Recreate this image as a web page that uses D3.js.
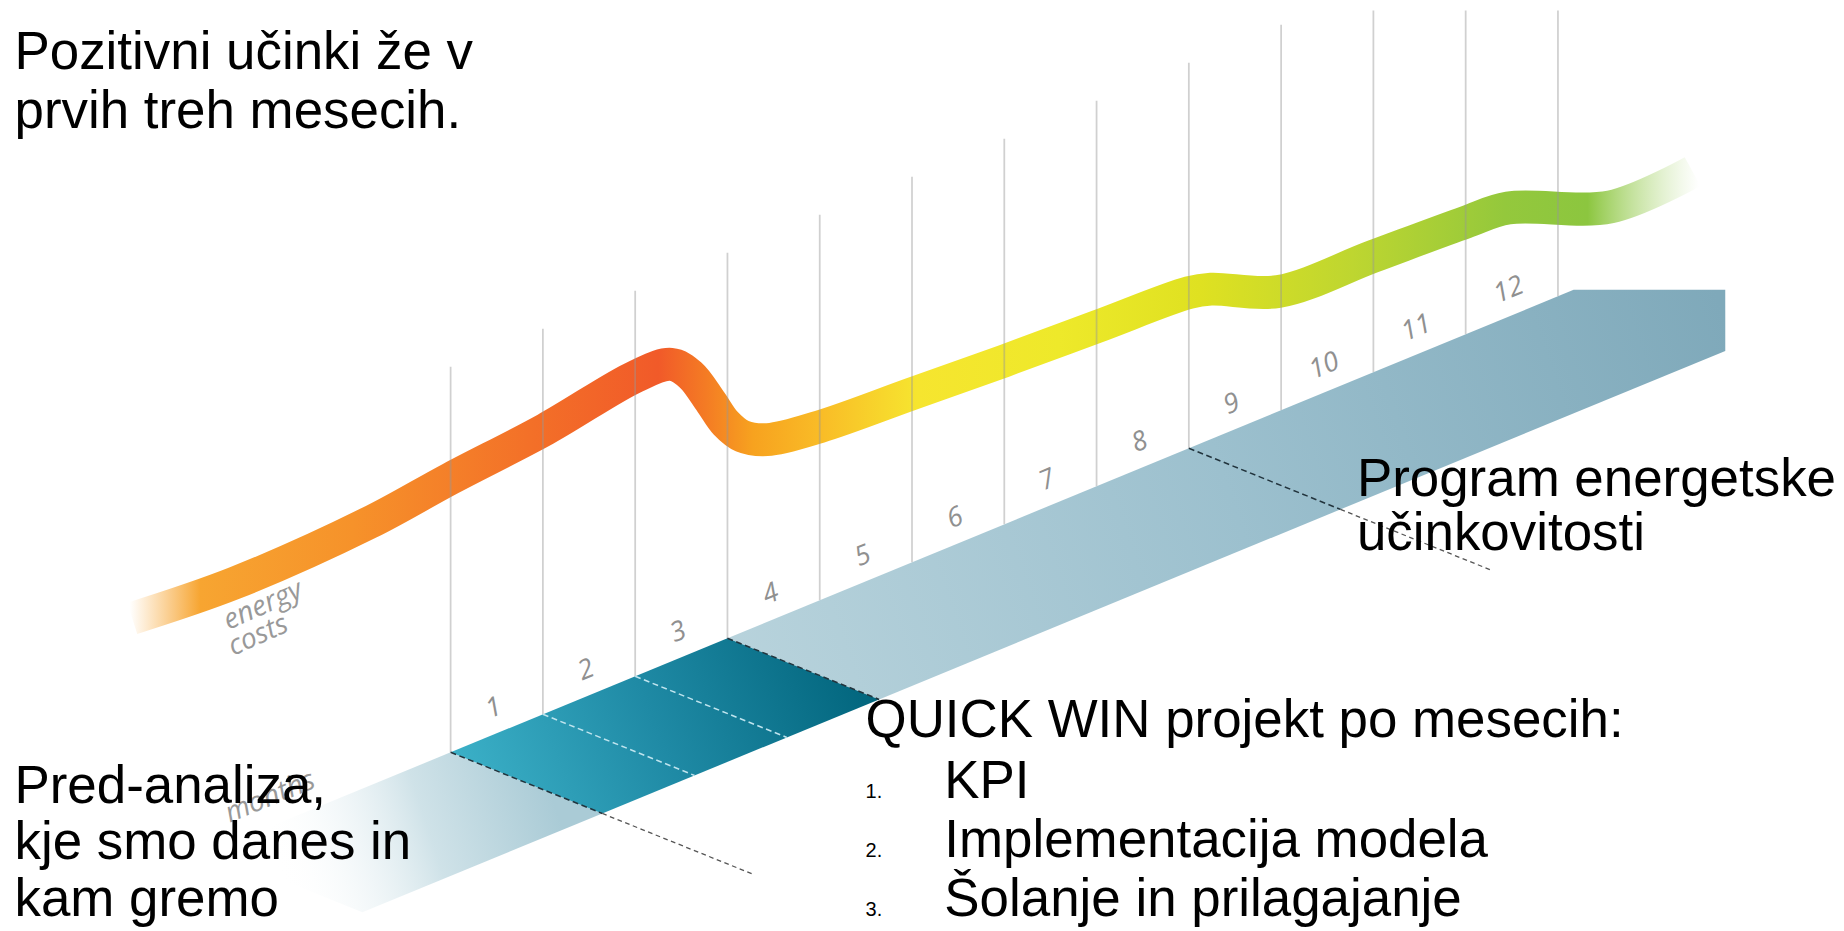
<!DOCTYPE html>
<html>
<head>
<meta charset="utf-8">
<script src="https://cdn.jsdelivr.net/npm/d3@7"></script>
<style>
  body { margin: 0; background: #fff; }
  svg { display: block; }
</style>
</head>
<body>
<svg id="chart" width="1844" height="931" viewBox="0 0 1568 792"></svg>
<script>
// --- data ---
const monthTicks = d3.range(0, 13);          // grid lines between months
const monthLabels = d3.range(1, 13);         // 1..12
const preAnalysis = [-2.6, 0];
const quickWin = [0, 3];
const program = [3, 12.17];
const phaseBreaks = [
  { m: 0, kind: "edge", ext: true },
  { m: 1, kind: "inner" },
  { m: 2, kind: "inner" },
  { m: 3, kind: "edge" },
  { m: 8, kind: "edge", ext: true },
];

// energy costs ribbon (month position, relative cost index)
const costMonth = [-3.45, -2.34, -0.89, 0, 1.03, 2.01, 2.39, 2.6, 2.82, 2.98, 3.16, 3.43,
  4, 5, 6, 7, 8, 8.24, 8.97, 10, 11, 11.46, 12.57, 13.46];
const costValue = [14.8, 20.8, 31, 38.6, 47, 56, 58, 56.2, 51.6, 48, 45.8, 45.2,
  47.4, 53, 58.6, 64.4, 70.2, 70.8, 70.4, 76.4, 82.2, 84.6, 84.8, 90.8];

const topTexts = ["Pozitivni učinki že v", "prvih treh mesecih."];
const preTexts = ["Pred-analiza,", "kje smo danes in", "kam gremo"];
const programTexts = ["Program energetske", "učinkovitosti"];
const quickTitle = "QUICK WIN projekt po mesecih:";
const quickItems = ["KPI", "Implementacija modela", "Šolanje in prilagajanje"];

// --- scales ---
const x = d3.scaleLinear().domain([0, 12]).range([383, 1325]);
const floorY = d3.scaleLinear().domain([0, 12]).range([640, 252]);
const y = d3.scaleLinear().domain([0, 100]).range([600, 100]);
const depth = { x: 129, y: 52 };
const gridHeight = 328;

const svg = d3.select("#chart");
const defs = svg.append("defs");

function grad(id, x1, y1, x2, y2, stops) {
  const g = defs.append("linearGradient").attr("id", id)
    .attr("gradientUnits", "userSpaceOnUse")
    .attr("x1", x1).attr("y1", y1).attr("x2", x2).attr("y2", y2);
  stops.forEach(s => g.append("stop").attr("offset", s[0])
    .attr("stop-color", s[1]).attr("stop-opacity", s[2] == null ? 1 : s[2]));
}

grad("ribbon", 110, 0, 1445, 0, [
  [0, "#f7a83a", 0], [0.045, "#f7a531"], [0.142, "#f6922a"], [0.255, "#f37028"],
  [0.337, "#f15a29"], [0.367, "#f47b24"], [0.397, "#f7a21f"], [0.442, "#f9bd27"],
  [0.502, "#f6e52f"], [0.592, "#eee92a"], [0.682, "#dfe121"], [0.779, "#bed630"],
  [0.876, "#94c83c"], [0.929, "#8cc63f"], [1, "#b8dc8a", 0]
]);
grad("dark", 400, 690, 720, 560, [[0, "#3cb1c8"], [0.5, "#1f8aa5"], [1, "#03677f"]]);
grad("light", 620, 560, 1467, 270, [[0, "#b8d3dc"], [0.5, "#9cc0ce"], [1, "#7fa9ba"]]);
grad("fade", 470, 680, 240, 755, [[0, "#aacbd6"], [0.45, "#cfe2e8"], [1, "#ffffff", 0]]);

const p = m => [x(m), floorY(m)];
const pd = m => [x(m) + depth.x, floorY(m) + depth.y];

// --- energy ribbon ---
const line = d3.line()
  .x((d, i) => x(costMonth[i]))
  .y((d, i) => y(costValue[i]))
  .curve(d3.curveCatmullRom.alpha(0.5));

svg.append("path")
  .attr("d", line(costMonth))
  .attr("fill", "none")
  .attr("stroke", "url(#ribbon)")
  .attr("stroke-width", 28);

// --- grid lines ---
svg.append("g").selectAll("line").data(monthTicks).join("line")
  .attr("x1", d => x(d)).attr("x2", d => x(d))
  .attr("y1", d => floorY(d))
  .attr("y2", d => Math.max(9, floorY(d) - gridHeight))
  .attr("stroke", "rgba(150,150,150,0.45)")
  .attr("stroke-width", 1.5);

// --- month band ---
const band = svg.append("g");
band.append("path")
  .attr("d", "M" + [p(preAnalysis[0]), p(preAnalysis[1]), pd(preAnalysis[1]), pd(preAnalysis[0])].join("L") + "Z")
  .attr("fill", "url(#fade)");
band.append("path")
  .attr("d", "M" + [p(program[0]), p(program[1]), [pd(program[1])[0], floorY(program[1])],
    pd(program[1]), pd(program[0])].join("L") + "Z")
  .attr("fill", "url(#light)");
band.append("path")
  .attr("d", "M" + [p(quickWin[0]), p(quickWin[1]), pd(quickWin[1]), pd(quickWin[0])].join("L") + "Z")
  .attr("fill", "url(#dark)");

// phase dashed lines
phaseBreaks.forEach(b => {
  const a = p(b.m), c = pd(b.m);
  band.append("line")
    .attr("x1", a[0]).attr("y1", a[1]).attr("x2", c[0]).attr("y2", c[1])
    .attr("stroke", b.kind === "inner" ? "#bfe4ee" : "#22343d")
    .attr("stroke-width", 1.3)
    .attr("stroke-dasharray", "5,3");
  if (b.ext) {
    band.append("line")
      .attr("x1", c[0]).attr("y1", c[1])
      .attr("x2", c[0] + depth.x).attr("y2", c[1] + depth.y)
      .attr("stroke", "#555")
      .attr("stroke-width", 1.1)
      .attr("stroke-dasharray", "4,3");
  }
});

// month numbers
const angle = Math.atan2(floorY(1) - floorY(0), x(1) - x(0)) * 180 / Math.PI;
svg.append("g").selectAll("text").data(monthLabels).join("text")
  .attr("transform", d => `translate(${x(d - 0.5)},${floorY(d - 0.5) - 15}) rotate(${angle})`)
  .attr("text-anchor", "middle")
  .attr("font-family", "'Open Sans', sans-serif")
  .attr("font-style", "italic")
  .attr("font-size", 23)
  .attr("fill", "#909090")
  .text(d => d);

// axis captions
const cap = svg.append("g")
  .attr("font-family", "'Open Sans', sans-serif")
  .attr("font-style", "italic")
  .attr("font-size", 24)
  .attr("fill", "#999");
cap.append("text").attr("transform", `translate(194,536) rotate(-24)`).text("energy");
cap.append("text").attr("transform", `translate(198,558) rotate(-24)`).text("costs");
cap.append("text").attr("transform", `translate(195,700) rotate(${angle})`).text("months");

// --- texts ---
const txt = svg.append("g")
  .attr("font-family", "'Liberation Sans', Arial, sans-serif")
  .attr("fill", "#000");

function block(lines, x0, y0, dy, size) {
  lines.forEach((t, i) => txt.append("text")
    .attr("x", x0).attr("y", y0 + i * dy)
    .attr("font-size", size).text(t));
}
block(topTexts, 12, 59, 50, 45);
block(preTexts, 12, 683, 48, 45);
block(programTexts, 1154, 422, 46, 45);
block([quickTitle], 736, 627, 0, 45);
quickItems.forEach((t, i) => {
  const yy = 679 + i * 50;
  txt.append("text").attr("x", 736).attr("y", yy).attr("font-size", 17).text((i + 1) + ".");
  txt.append("text").attr("x", 803).attr("y", yy).attr("font-size", 45).text(t);
});
</script>
</body>
</html>
